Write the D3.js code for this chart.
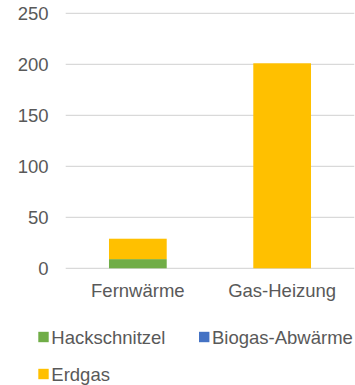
<!DOCTYPE html>
<html>
<head>
<meta charset="utf-8">
<script src="https://cdn.jsdelivr.net/npm/d3@7/dist/d3.min.js"></script>
<style>
  html, body { margin: 0; padding: 0; background: #fff; }
  svg { display: block; font-family: "Liberation Sans", Arial, sans-serif; }
</style>
</head>
<body>
<svg id="chart" width="355" height="385"></svg>
<script>
// Heat supply comparison, stacked by energy source
const categories = ["Fernwärme", "Gas-Heizung"];
const seriesNames = ["Hackschnitzel", "Biogas-Abwärme", "Erdgas"];
const hackschnitzel = [9, 0];
const biogasAbwaerme = [0, 0];
const erdgas = [20, 201];
const yTicks = [0, 50, 100, 150, 200, 250];
const colors = ["#70AD47", "#4472C4", "#FFC000"];

const rows = categories.map((c, i) => ({
  category: c,
  "Hackschnitzel": hackschnitzel[i],
  "Biogas-Abwärme": biogasAbwaerme[i],
  "Erdgas": erdgas[i]
}));

const svg = d3.select("#chart");
const plot = { left: 65.7, right: 354.3, top: 13.3, bottom: 268.3 };

const x = d3.scaleBand()
  .domain(categories)
  .range([plot.left, plot.right])
  .paddingInner(0.6)
  .paddingOuter(0.3);

const y = d3.scaleLinear()
  .domain([0, 250])
  .range([plot.bottom, plot.top]);

const color = d3.scaleOrdinal().domain(seriesNames).range(colors);

// Horizontal gridlines
svg.append("g")
  .selectAll("line")
  .data(yTicks)
  .join("line")
  .attr("x1", plot.left)
  .attr("x2", plot.right)
  .attr("y1", d => y(d))
  .attr("y2", d => y(d))
  .attr("stroke", "#d9d9d9")
  .attr("stroke-width", 1.3);

// Y axis labels
const yAxis = d3.axisLeft(y).tickValues(yTicks).tickSize(0).tickPadding(0);
svg.append("g")
  .attr("transform", `translate(48.5,0)`)
  .call(yAxis)
  .call(g => g.select(".domain").remove())
  .call(g => g.selectAll("text")
    .attr("fill", "#595959")
    .attr("font-size", "18.5px")
    .attr("font-family", "Liberation Sans, Arial, sans-serif")
    .attr("dy", "0.36em"));

// Stacked bars
const stacked = d3.stack().keys(seriesNames)(rows);
svg.append("g")
  .selectAll("g")
  .data(stacked)
  .join("g")
  .attr("fill", d => color(d.key))
  .selectAll("rect")
  .data(d => d)
  .join("rect")
  .attr("x", d => x(d.data.category))
  .attr("width", x.bandwidth())
  .attr("y", d => y(d[1]))
  .attr("height", d => y(d[0]) - y(d[1]));

// Category axis
const xAxis = d3.axisBottom(x).tickSize(0).tickPadding(0);
svg.append("g")
  .attr("transform", `translate(0,${plot.bottom})`)
  .call(xAxis)
  .call(g => g.select(".domain").remove())
  .call(g => g.selectAll("text")
    .attr("fill", "#595959")
    .attr("font-size", "18.5px")
    .attr("font-family", "Liberation Sans, Arial, sans-serif")
    .attr("dy", "0")
    .attr("y", 28.6));

// Legend
const legendPos = [
  { x: 38.3, y: 337 },
  { x: 199, y: 337 },
  { x: 38.3, y: 374 }
];
const legend = svg.append("g")
  .selectAll("g")
  .data(seriesNames)
  .join("g")
  .attr("transform", (d, i) => `translate(${legendPos[i].x},${legendPos[i].y})`);
legend.append("rect")
  .attr("x", 0)
  .attr("y", -5.2)
  .attr("width", 10.4)
  .attr("height", 10.4)
  .attr("fill", d => color(d));
legend.append("text")
  .attr("x", 13)
  .attr("y", 0)
  .attr("dy", "0.36em")
  .attr("fill", "#595959")
  .attr("font-size", "18.5px")
  .text(d => d);
</script>
</body>
</html>
